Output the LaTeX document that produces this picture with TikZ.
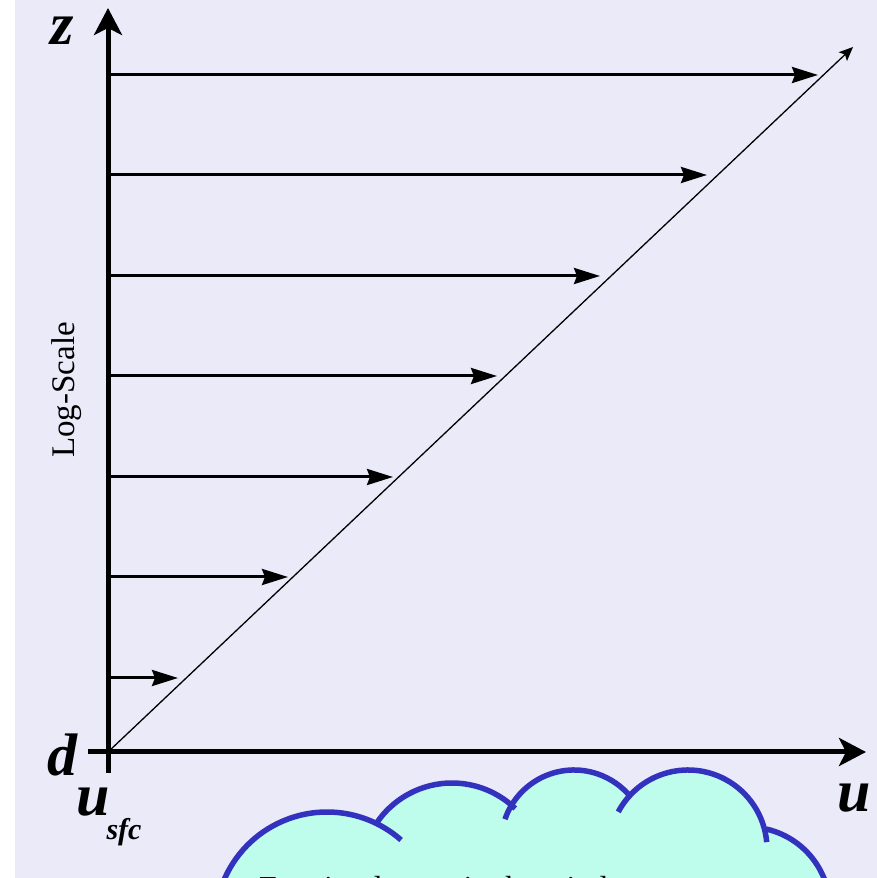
\documentclass[tikz,border=0pt]{standalone}
\usepackage{fontspec}
\setmainfont{Liberation Serif}
\usetikzlibrary{arrows.meta}
\definecolor{bglav}{RGB}{234,234,248}
\definecolor{cloudfill}{RGB}{190,253,236}
\definecolor{cloudline}{RGB}{50,50,190}
\begin{document}
\begin{tikzpicture}[x=1pt,y=1pt,
  axisline/.style={line width=5pt,-{Stealth[length=27pt,width=28pt,inset=7pt]}},
  profarrow/.style={line width=3pt,-{Stealth[length=26pt,width=16pt,inset=3pt]}},
  diagline/.style={line width=1.3pt,-{Stealth[length=14pt,width=12pt,inset=3pt]}},
  biglabel/.style={inner sep=0pt,font=\fontsize{60}{70}\selectfont\bfseries\itshape},
  cloudstroke/.style={draw=cloudline,line width=5.5pt},
]
\useasboundingbox (0,0) rectangle (877,878);
\fill[white] (0,0) rectangle (877,878);
\fill[bglav] (15,0) rectangle (877,878);

% cloud
\begin{scope}
\clip (0,0) rectangle (877,878);
\fill[cloudfill] (327,-46) circle[radius=112];
\fill[cloudfill] (452,4) circle[radius=91];
\fill[cloudfill] (574,35) circle[radius=73];
\fill[cloudfill] (688,29) circle[radius=79];
\fill[cloudfill] (748,-31) circle[radius=82];
\fill[cloudfill] (327,-46) -- (452,4) -- (574,35) -- (688,29) -- (748,-31) -- (748,-120) -- (327,-120) -- cycle;
\draw[cloudstroke] (327,-46) ++(200:112) arc[start angle=200,end angle=48.6,radius=112];
\draw[cloudstroke] (452,4) ++(145:91) arc[start angle=145,end angle=46,radius=91];
\draw[cloudstroke] (574,35) ++(161:73) arc[start angle=161,end angle=39,radius=73];
\draw[cloudstroke] (688,29) ++(152:79) arc[start angle=152,end angle=5,radius=79];
\draw[cloudstroke] (748,-31) ++(77:82) arc[start angle=77,end angle=-10,radius=82];
\node[anchor=base west,inner sep=0pt,font=\fontsize{32}{38}\selectfont] (ctext) at (259,-20) {For simple terrain the wind};
\end{scope}

% axes
\coordinate (zbot) at (108,105);
\coordinate (ztop) at (108,870);
\coordinate (uleft) at (88,126);
\coordinate (uright) at (866,126);
\coordinate (O) at (108,126);
\coordinate (dtip) at (853,831);
\draw[axisline] (zbot) -- (ztop);
\draw[axisline] (uleft) -- (uright);
\draw[diagline] (O) -- (dtip);

% profile arrows
\foreach \yy/\xx [count=\i] in {803/818,703/707,602/600,502/497,401/393,301/288,200/178}{
  \coordinate (s\i) at (108,\yy);
  \coordinate (e\i) at (\xx,\yy);
  \draw[profarrow] (s\i) -- (e\i);
}

% labels
\node[biglabel] (zl) at (62,847) {z};
\node[biglabel] (dl) at (62,123) {d};
\node[biglabel] (ul) at (93,76) {u};
\node[inner sep=0pt,font=\fontsize{30}{34}\selectfont\bfseries\itshape] (sfc) at (124,46) {sfc};
\node[biglabel] (ur) at (854,80) {u};
\node[inner sep=0pt,rotate=90,font=\fontsize{33}{38}\selectfont] (logs) at (67,488) {Log-Scale};
\end{tikzpicture}
\end{document}
